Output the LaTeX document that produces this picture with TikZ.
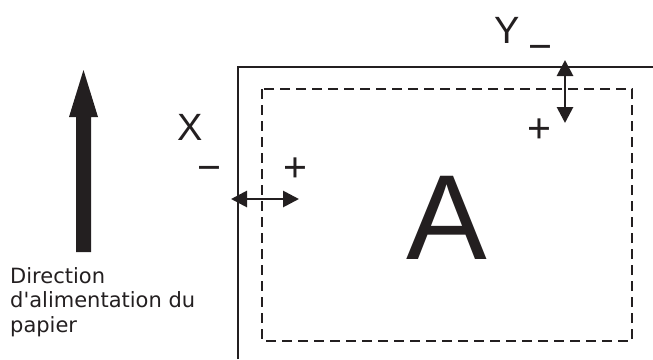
\documentclass[tikz,border=0pt]{standalone}
\usepackage{fontspec}
\setmainfont{DejaVu Sans}[Ligatures=TeXOff]
\newfontfamily\lib{Liberation Sans}
\usetikzlibrary{arrows.meta}
\definecolor{ink}{HTML}{231F20}
\tikzset{
  paper/.style={line width=2.3pt, draw=ink},
  margin/.style={line width=2.3pt, draw=ink, dash pattern=on 10pt off 6pt},
  adjarrow/.style={line width=2.8pt, draw=ink, {Triangle[length=16pt,width=16pt]}-{Triangle[length=16pt,width=16pt]}},
  axislabel/.style={inner sep=0pt, anchor=base, font=\lib\fontsize{38}{38}\selectfont, text=ink},
  signlabel/.style={inner sep=0pt, anchor=base, font=\lib\fontsize{41}{41}\selectfont, text=ink},
  feedtext/.style={inner sep=0pt, anchor=north west, align=left, font=\fontsize{21}{24.5}\selectfont, text=ink},
}
\begin{document}
\begin{tikzpicture}[x=1pt,y=-1pt]
\useasboundingbox (0,0) rectangle (653,359);
% paper edge
\coordinate (pb) at (238,359);
\coordinate (pc) at (238,67);
\coordinate (pr) at (653,67);
\draw[paper] (pb) -- (pc) -- (pr);
% printable area
\coordinate (m1) at (262,89);
\coordinate (m2) at (632,341);
\draw[margin] (m1) rectangle (m2);
% feed direction arrow
\fill[ink] (76,252) -- (91,252) -- (91,117) -- (98,117) -- (83.5,70) -- (69,117) -- (76,117) -- cycle;
\node[feedtext] (feed) at (10,267) {Direction\\d'alimentation du\\papier};
% X adjustment
\node[axislabel] (X) at (190,140) {X};
\node[signlabel] (xm) at (209,181) {−};
\node[signlabel] (xp) at (295,181) {+};
\coordinate (xa) at (231,199);
\coordinate (xb) at (299,199);
\draw[adjarrow] (xa) -- (xb);
% Y adjustment
\node[axislabel] (Y) at (507,43) {Y};
\node[signlabel] (ym) at (540,60) {−};
\node[signlabel] (yp) at (539,142) {+};
\coordinate (ya) at (565,60);
\coordinate (yb) at (565,123);
\draw[adjarrow] (ya) -- (yb);
% big A
\node[inner sep=0pt, anchor=base, font=\lib\fontsize{121}{121}\selectfont, text=ink] (A) at (447,259) {A};
\end{tikzpicture}
\end{document}
